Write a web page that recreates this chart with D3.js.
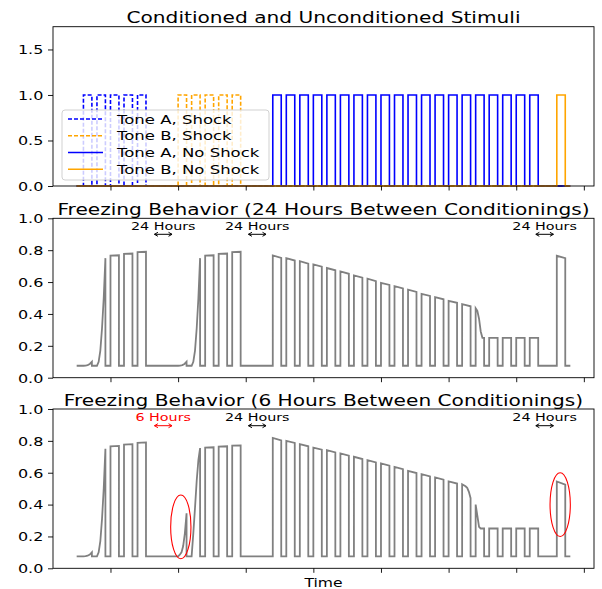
<!DOCTYPE html>
<html>
<head>
<meta charset="utf-8">
<script src="https://cdn.jsdelivr.net/npm/d3@7"></script>
<style>
  body { margin: 0; background: #fff; }
  svg { display: block; }
  text { font-family: "DejaVu Sans", sans-serif; }
</style>
</head>
<body>
<div id="chart"></div>
<script>
// ---- data ----
const tStart = 50, tEnd = 780;
const toneLen = 12.5;
const baseline = 0.075;

const toneAShock = [60, 80, 100, 120, 140];
const toneBShock = [200, 220, 240, 260, 280];
const toneANoShock = [340, 360, 380, 400, 420, 440, 460, 480, 500, 520,
                      540, 560, 580, 600, 620, 640, 660, 680, 700, 720];
const toneBNoShock = [760];

const stimNames = ['Tone A, Shock', 'Tone B, Shock', 'Tone A, No Shock', 'Tone B, No Shock'];

// freezing during each tone (values read along the tone), tones in time order
const freeze24 = [
  [0.075, 0.076, 0.079, 0.086, 0.1],
  [0.075, 0.1, 0.17, 0.31, 0.5, 0.75],
  [0.766, 0.768],
  [0.777, 0.779],
  [0.788, 0.79],
  [0.075, 0.076, 0.079, 0.086, 0.1],
  [0.075, 0.1, 0.17, 0.31, 0.5, 0.75],
  [0.766, 0.768],
  [0.777, 0.779],
  [0.788, 0.79],
  [0.767, 0.752], [0.75, 0.735], [0.731, 0.716], [0.711, 0.696], [0.688, 0.674],
  [0.667, 0.652], [0.642, 0.628], [0.621, 0.606], [0.595, 0.582], [0.574, 0.56],
  [0.552, 0.538], [0.526, 0.513], [0.505, 0.492], [0.482, 0.47], [0.461, 0.448],
  [0.436, 0.42, 0.37, 0.29, 0.25, 0.25],
  [0.25, 0.25], [0.25, 0.25], [0.25, 0.25], [0.25, 0.25],
  [0.765, 0.75]
];

const freeze6 = [
  [0.075, 0.076, 0.079, 0.086, 0.1],
  [0.075, 0.1, 0.17, 0.31, 0.5, 0.75],
  [0.766, 0.768],
  [0.777, 0.779],
  [0.788, 0.79],
  [0.075, 0.085, 0.1, 0.14, 0.22, 0.345],
  [0.075, 0.22, 0.38, 0.55, 0.68, 0.755],
  [0.758, 0.76],
  [0.764, 0.766],
  [0.77, 0.772],
  [0.818, 0.803], [0.8, 0.787], [0.78, 0.766], [0.757, 0.745], [0.742, 0.728],
  [0.721, 0.707], [0.7, 0.686], [0.679, 0.665], [0.658, 0.644], [0.637, 0.622],
  [0.612, 0.598], [0.591, 0.577], [0.57, 0.556], [0.545, 0.532],
  [0.528, 0.522, 0.515, 0.505, 0.48, 0.44],
  [0.4, 0.33, 0.26, 0.25, 0.25, 0.25],
  [0.25, 0.25], [0.25, 0.25], [0.25, 0.25], [0.25, 0.25],
  [0.545, 0.525]
];

const xTicks = [100, 200, 300, 400, 500, 600, 700, 800];
const stimTicks = [0, 0.5, 1.0, 1.5];
const freezeTicks = [0, 0.2, 0.4, 0.6, 0.8, 1.0];

const titles = ['Conditioned and Unconditioned Stimuli',
                'Freezing Behavior (24 Hours Between Conditionings)',
                'Freezing Behavior (6 Hours Between Conditionings)'];

const gapTimes = [178, 317, 742];
const gapLabels24 = ['24 Hours', '24 Hours', '24 Hours'];
const gapLabels6 = ['6 Hours', '24 Hours', '24 Hours'];
const gapColors6 = ['red', 'black', 'black'];

const circleTimes = [204, 765];
const circleValues = [0.26, 0.40];

// ---- layout ----
const W = 602, H = 589;
const SX = 1.3; // text is drawn horizontally stretched
const svg = d3.select('#chart').append('svg').attr('width', W).attr('height', H);

const x = d3.scaleLinear().domain([15, 815]).range([53, 594]);

const panels = [
  { top: 26.7, bottom: 186, ymax: 1.75, ticks: stimTicks, titleY: 22.5 },
  { top: 218.3, bottom: 377.7, ymax: 1.0, ticks: freezeTicks, titleY: 214.5 },
  { top: 409, bottom: 568.3, ymax: 1.0, ticks: freezeTicks, titleY: 405.5 }
];
panels.forEach(p => {
  p.y = d3.scaleLinear().domain([0, p.ymax]).range([p.bottom, p.top]);
});

function stretched(g, str, px, py, size, anchor, color) {
  return g.append('text')
    .attr('transform', `translate(${px},${py}) scale(${SX},1)`)
    .attr('text-anchor', anchor)
    .attr('font-size', size)
    .attr('fill', color || 'black')
    .text(str);
}

function stimPoints(onsets) {
  const pts = [[tStart, 0]];
  onsets.forEach(o => {
    pts.push([o, 0], [o, 1], [o + toneLen, 1], [o + toneLen, 0]);
  });
  pts.push([tEnd, 0]);
  return pts;
}

function freezePoints(onsets, vals) {
  const pts = [[tStart, baseline]];
  onsets.forEach((o, i) => {
    const v = vals[i];
    pts.push([o, baseline]);
    v.forEach((d, j) => pts.push([o + toneLen * j / (v.length - 1), d]));
    pts.push([o + toneLen, baseline]);
  });
  pts.push([tEnd, baseline]);
  return pts;
}

function drawAxes(g, p) {
  const yAxis = g.append('g')
    .attr('transform', `translate(${x.range()[0]},0)`)
    .call(d3.axisLeft(p.y).tickValues(p.ticks).tickFormat(d3.format('.1f')).tickSize(5).tickPadding(0));
  yAxis.select('.domain').remove();
  yAxis.selectAll('line').attr('stroke', '#000').attr('stroke-width', 0.9);
  yAxis.selectAll('text').each(function () {
    const t = d3.select(this);
    const yy = p.y(t.datum());
    t.attr('x', null).attr('dy', null)
      .attr('transform', `translate(-9.7,${0}) scale(${SX},1)`)
      .attr('y', 4.4)
      .attr('font-size', 12.3)
      .attr('font-family', '"DejaVu Sans", sans-serif');
  });

  const xAxis = g.append('g')
    .attr('transform', `translate(0,${p.bottom})`)
    .call(d3.axisBottom(x).tickValues(xTicks).tickFormat('').tickSize(4.5));
  xAxis.select('.domain').remove();
  xAxis.selectAll('line').attr('stroke', '#000').attr('stroke-width', 0.9);

  g.append('rect')
    .attr('x', x.range()[0]).attr('y', p.top)
    .attr('width', x.range()[1] - x.range()[0])
    .attr('height', p.bottom - p.top)
    .attr('fill', 'none').attr('stroke', '#000').attr('stroke-width', 0.9);

  stretched(g, titles[panels.indexOf(p)], (x.range()[0] + x.range()[1]) / 2, p.titleY, 15.5, 'middle');
}

// ---- panel 1: stimuli ----
const p1 = panels[0];
const g1 = svg.append('g');
const line1 = d3.line().x(d => x(d[0])).y(d => p1.y(d[1]));
const stimSeries = [
  { onsets: toneAShock, color: '#0000ff', dash: '4,2' },
  { onsets: toneBShock, color: '#ffa500', dash: '4,2' },
  { onsets: toneANoShock, color: '#0000ff', dash: null },
  { onsets: toneBNoShock, color: '#ffa500', dash: null }
];
stimSeries.forEach(s => {
  g1.append('path')
    .datum(stimPoints(s.onsets))
    .attr('d', line1)
    .attr('fill', 'none')
    .attr('stroke', s.color)
    .attr('stroke-width', 1.6)
    .attr('stroke-dasharray', s.dash);
});

// legend
const leg = g1.append('g');
leg.append('rect')
  .attr('x', 62).attr('y', 110).attr('width', 207).attr('height', 70)
  .attr('rx', 3)
  .attr('fill', '#fff').attr('fill-opacity', 0.8)
  .attr('stroke', '#cccccc').attr('stroke-width', 0.9);
stimNames.forEach((name, i) => {
  const ly = 119 + i * 16.75;
  leg.append('line')
    .attr('x1', 68).attr('x2', 103).attr('y1', ly).attr('y2', ly)
    .attr('stroke', stimSeries[i].color).attr('stroke-width', 1.6)
    .attr('stroke-dasharray', stimSeries[i].dash);
  stretched(leg, name, 117, ly + 4.6, 12.7, 'start');
});
drawAxes(g1, p1);

// ---- freezing panels ----
const allOnsets = [...toneAShock, ...toneBShock, ...toneANoShock, ...toneBNoShock];

function drawArrow(g, t, yy, color) {
  const x0 = x(t - 13), x1 = x(t + 13);
  g.append('line').attr('x1', x0).attr('x2', x1).attr('y1', yy).attr('y2', yy)
    .attr('stroke', color).attr('stroke-width', 1);
  g.append('path')
    .attr('d', `M${x0 + 3.5},${yy - 2} L${x0},${yy} L${x0 + 3.5},${yy + 2} M${x1 - 3.5},${yy - 2} L${x1},${yy} L${x1 - 3.5},${yy + 2}`)
    .attr('fill', 'none').attr('stroke', color).attr('stroke-width', 1);
}

function drawFreeze(p, vals, labels, colors, textY, arrowY) {
  const g = svg.append('g');
  const line = d3.line().x(d => x(d[0])).y(d => p.y(d[1]));
  g.append('path')
    .datum(freezePoints(allOnsets, vals))
    .attr('d', line)
    .attr('fill', 'none')
    .attr('stroke', '#808080')
    .attr('stroke-width', 1.8)
    .attr('stroke-linejoin', 'miter');
  gapTimes.forEach((t, i) => {
    const c = colors ? colors[i] : 'black';
    stretched(g, labels[i], x(t), textY, 11, 'middle', c);
    drawArrow(g, t, arrowY, c);
  });
  drawAxes(g, p);
  return g;
}

drawFreeze(panels[1], freeze24, gapLabels24, null, 229.5, 234.3);
const g3 = drawFreeze(panels[2], freeze6, gapLabels6, gapColors6, 421, 425.7);

circleTimes.forEach((t, i) => {
  const p = panels[2];
  g3.append('ellipse')
    .attr('cx', x(t)).attr('cy', p.y(circleValues[i]))
    .attr('rx', x(t + 15) - x(t))
    .attr('ry', p.y(0) - p.y(0.2))
    .attr('fill', 'none').attr('stroke', 'red').attr('stroke-width', 1.1);
});

stretched(svg, 'Time', (x.range()[0] + x.range()[1]) / 2, 586.5, 12, 'middle');
</script>
</body>
</html>
